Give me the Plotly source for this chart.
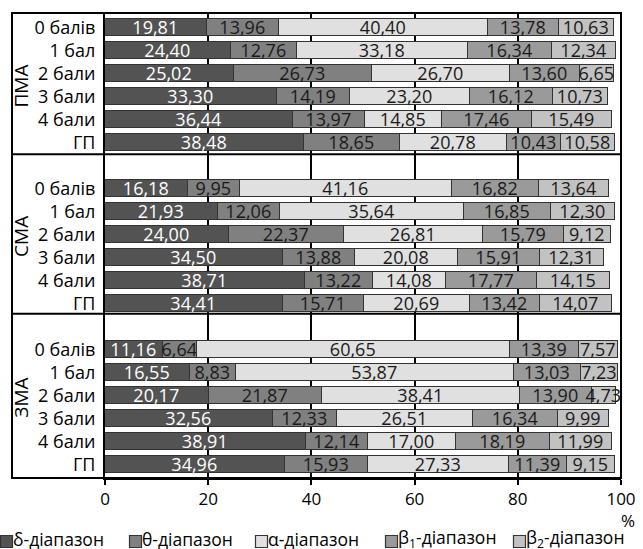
import plotly.graph_objects as go

groups = ["ПМА", "СМА", "ЗМА"]
categories = ["0 балів", "1 бал", "2 бали", "3 бали", "4 бали", "ГП"]
series_names = ["δ-діапазон", "θ-діапазон", "α-діапазон",
                "β<sub>1</sub>-діапазон", "β<sub>2</sub>-діапазон"]

# values ordered: ПМА rows, СМА rows, ЗМА rows
delta = [19.81, 24.40, 25.02, 33.30, 36.44, 38.48,
         16.18, 21.93, 24.00, 34.50, 38.71, 34.41,
         11.16, 16.55, 20.17, 32.56, 38.91, 34.96]
theta = [13.96, 12.76, 26.73, 14.19, 13.97, 18.65,
         9.95, 12.06, 22.37, 13.88, 13.22, 15.71,
         6.64, 8.83, 21.87, 12.33, 12.14, 15.93]
alpha = [40.40, 33.18, 26.70, 23.20, 14.85, 20.78,
         41.16, 35.64, 26.81, 20.08, 14.08, 20.69,
         60.65, 53.87, 38.41, 26.51, 17.00, 27.33]
beta1 = [13.78, 16.34, 13.60, 16.12, 17.46, 10.43,
         16.82, 16.85, 15.79, 15.91, 17.77, 13.42,
         13.39, 13.03, 13.90, 16.34, 18.19, 11.39]
beta2 = [10.63, 12.34, 6.65, 10.73, 15.49, 10.58,
         13.64, 12.30, 9.12, 12.31, 14.15, 14.07,
         7.57, 7.23, 4.73, 9.99, 11.99, 9.15]

colors = ["#535353", "#808080", "#e0e0e0", "#9a9a9a", "#c2c2c2"]
text_colors = ["white", "#1a1a1a", "#1a1a1a", "#1a1a1a", "#1a1a1a"]
FONT = "Open Sans"

# row positions: one empty row between groups
ypos = [g * 7 + i for g in range(len(groups)) for i in range(len(categories))]
ticktext = categories * len(groups)

fig = go.Figure()
for name, vals, col, tcol in zip(series_names, [delta, theta, alpha, beta1, beta2],
                                 colors, text_colors):
    fig.add_trace(go.Bar(
        x=vals, y=ypos, orientation="h", name=name,
        marker=dict(color=col, line=dict(color="#333333", width=1.5)),
        width=0.74,
        texttemplate="%{x:.2f}", textposition="inside",
        insidetextanchor="middle",
        textfont=dict(color=tcol, size=18, family=FONT),
        showlegend=False, hoverinfo="skip",
    ))

W, H = 643, 549
ML, MR, MT, MB = 105, 22, 13, 71
PW, PH = W - ML - MR, H - MT - MB


def px_x(px):
    return (px - ML) / PW


def px_y(py):
    return (H - MB - py) / PH


shapes = []
annotations = []
# outer frame
shapes.append(dict(type="rect", xref="paper", yref="paper",
                   x0=px_x(12), x1=1, y0=0, y1=1,
                   line=dict(color="black", width=2), layer="above"))
# group separators
for g in range(1, len(groups)):
    ysep = g * 7 - 1.5 if g == 1 else g * 7 - 1.55
    shapes.append(dict(type="line", xref="paper", yref="y",
                       x0=px_x(12), x1=1, y0=ysep, y1=ysep,
                       line=dict(color="black", width=2), layer="above"))
# group labels
for g, gname in enumerate(groups):
    annotations.append(dict(text=gname, xref="paper", yref="y",
                            x=px_x(21), y=g * 7 + (2.55 if g == 0 else 2.1),
                            xanchor="center", yanchor="middle",
                            textangle=-90, showarrow=False,
                            font=dict(size=19, family=FONT, color="black")))
# axis unit
annotations.append(dict(text="%", xref="paper", yref="paper",
                        x=px_x(628), y=px_y(520), xanchor="center",
                        yanchor="middle", showarrow=False,
                        font=dict(size=17, family=FONT, color="black")))
# manual legend
leg_x = [0, 129, 255, 385, 513]
for lx, name, col in zip(leg_x, series_names, colors):
    shapes.append(dict(type="rect", xref="paper", yref="paper",
                       x0=px_x(lx + 0.5), x1=px_x(lx + 12.5),
                       y0=px_y(547.5), y1=px_y(535.5),
                       fillcolor=col, line=dict(color="#333333", width=1.2)))
    annotations.append(dict(text=name, xref="paper", yref="paper",
                            x=px_x(lx + 10.5), y=px_y(538.5), xanchor="left",
                            yanchor="middle", showarrow=False,
                            font=dict(size=17.5, family=FONT, color="black")))

fig.update_layout(
    barmode="stack",
    width=W, height=H,
    margin=dict(l=ML, r=MR, t=MT, b=MB),
    paper_bgcolor="white", plot_bgcolor="white",
    separators=", ",
    font=dict(family=FONT, color="black", size=17),
    uniformtext=dict(minsize=18, mode="show"),
    shapes=shapes, annotations=annotations,
    bargap=0,
)
fig.update_xaxes(range=[0, 100], dtick=20, showgrid=True, gridcolor="black",
                 gridwidth=2, zeroline=False, showline=True, linecolor="black",
                 linewidth=2, ticks="outside", ticklen=5, tickwidth=2,
                 tickcolor="black", tickfont=dict(size=17, family=FONT),
                 automargin=False)
fig.update_yaxes(range=[19.6, -0.65], tickvals=ypos, ticktext=ticktext,
                 showgrid=False, zeroline=False, showline=True,
                 linecolor="black", linewidth=2, ticks="",
                 ticklabelstandoff=4, automargin=False,
                 tickfont=dict(size=18, family=FONT))

fig.write_html("out.html",
               config={"displayModeBar": False},
               post_script="document.body.style.margin='0';"
                           "document.body.style.overflow='hidden';")
